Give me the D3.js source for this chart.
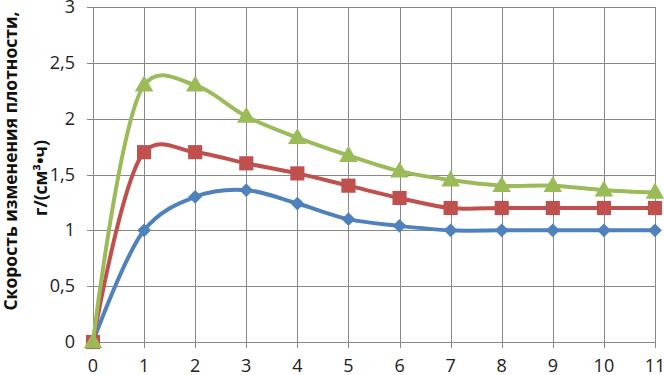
<!DOCTYPE html>
<html>
<head>
<meta charset="utf-8">
<script src="https://cdn.jsdelivr.net/npm/d3@7"></script>
<style>
  body { margin: 0; background: #fff; }
  text { font-family: "Open Sans", sans-serif; }
</style>
</head>
<body>
<script>
var width = 664,
    height = 375;

// plot area (avoid "top" - it's a window property)
var plotLeft = 93, plotRight = 655, plotTop = 7, plotBottom = 342;

// data
var hours = [0, 1, 2, 3, 4, 5, 6, 7, 8, 9, 10, 11];
var blueSeries = [0, 1.0, 1.3, 1.36, 1.24, 1.1, 1.04, 1.0, 1.0, 1.0, 1.0, 1.0];
var redSeries = [0, 1.7, 1.7, 1.6, 1.51, 1.4, 1.29, 1.2, 1.2, 1.2, 1.2, 1.2];
var greenSeries = [0, 2.3, 2.3, 2.02, 1.83, 1.67, 1.53, 1.45, 1.4, 1.4, 1.36, 1.34];
var yTicks = [0, 0.5, 1, 1.5, 2, 2.5, 3];
var yLabelLines = ["Скорость изменения плотности,", "г/(см³•ч)"];

var series = [
  {values: blueSeries, color: "#4F81BD", marker: "diamond"},
  {values: redSeries, color: "#C0504D", marker: "square"},
  {values: greenSeries, color: "#9BBB59", marker: "triangle"}
];

var svg = d3.select("body").append("svg")
    .attr("width", width)
    .attr("height", height);

var x = d3.scaleLinear().domain([0, 11]).range([plotLeft, plotRight]);
var y = d3.scaleLinear().domain([0, 3]).range([plotBottom, plotTop]);

// grid
var grid = svg.append("g").attr("id", "grid");
grid.selectAll(".hgrid")
    .data(yTicks)
    .enter().append("line")
    .attr("x1", plotLeft - 6).attr("x2", plotRight)
    .attr("y1", function(d) { return Math.round(y(d)) + 0.5; })
    .attr("y2", function(d) { return Math.round(y(d)) + 0.5; })
    .attr("stroke", "#888").attr("stroke-width", 1);
grid.selectAll(".vgrid")
    .data(hours)
    .enter().append("line")
    .attr("y1", plotTop).attr("y2", plotBottom + 6)
    .attr("x1", function(d) { return Math.round(x(d)) + 0.5; })
    .attr("x2", function(d) { return Math.round(x(d)) + 0.5; })
    .attr("stroke", "#888").attr("stroke-width", 1);

// tick labels
svg.append("g").selectAll("text")
    .data(yTicks)
    .enter().append("text")
    .attr("x", 75)
    .attr("y", function(d) { return y(d) + 6; })
    .attr("text-anchor", "end")
    .attr("font-size", "18px")
    .attr("fill", "#222")
    .text(function(d) { return String(d).replace(".", ","); });

svg.append("g").selectAll("text")
    .data(hours)
    .enter().append("text")
    .attr("x", function(d) { return x(d); })
    .attr("y", 372)
    .attr("text-anchor", "middle")
    .attr("font-size", "18px")
    .attr("fill", "#222")
    .text(function(d) { return d; });

// y axis title
var ty = svg.append("g");
ty.append("text")
    .attr("transform", "translate(17,161) rotate(-90)")
    .attr("text-anchor", "middle")
    .attr("font-size", "17.5px")
    .attr("font-weight", "bold")
    .attr("fill", "#111")
    .text(yLabelLines[0]);
ty.append("text")
    .attr("transform", "translate(47,178) rotate(-90)")
    .attr("text-anchor", "middle")
    .attr("font-size", "17.5px")
    .attr("font-weight", "bold")
    .attr("fill", "#111")
    .text(yLabelLines[1]);

// series
var line = d3.line()
    .x(function(d, i) { return x(hours[i]); })
    .y(function(d) { return y(d); })
    .curve(d3.curveCatmullRom.alpha(0.3));

var symbolMap = {
  diamond: d3.symbol().type(d3.symbolDiamond2).size(120),
  square: d3.symbol().type(d3.symbolSquare).size(200),
  triangle: d3.symbol().type(d3.symbolTriangle).size(150)
};

series.forEach(function(s) {
  var g = svg.append("g");
  g.append("path")
      .attr("d", line(s.values))
      .attr("fill", "none")
      .attr("stroke", s.color)
      .attr("stroke-width", 4)
      .attr("stroke-linejoin", "round");
  g.selectAll("path.marker")
      .data(s.values)
      .enter().append("path")
      .attr("class", "marker")
      .attr("transform", function(d, i) {
        var dy = s.marker === "triangle" ? 1 : 0;
        return "translate(" + x(hours[i]) + "," + (y(d) + dy) + ")";
      })
      .attr("d", symbolMap[s.marker]())
      .attr("fill", s.color);
});
</script>
</body>
</html>
